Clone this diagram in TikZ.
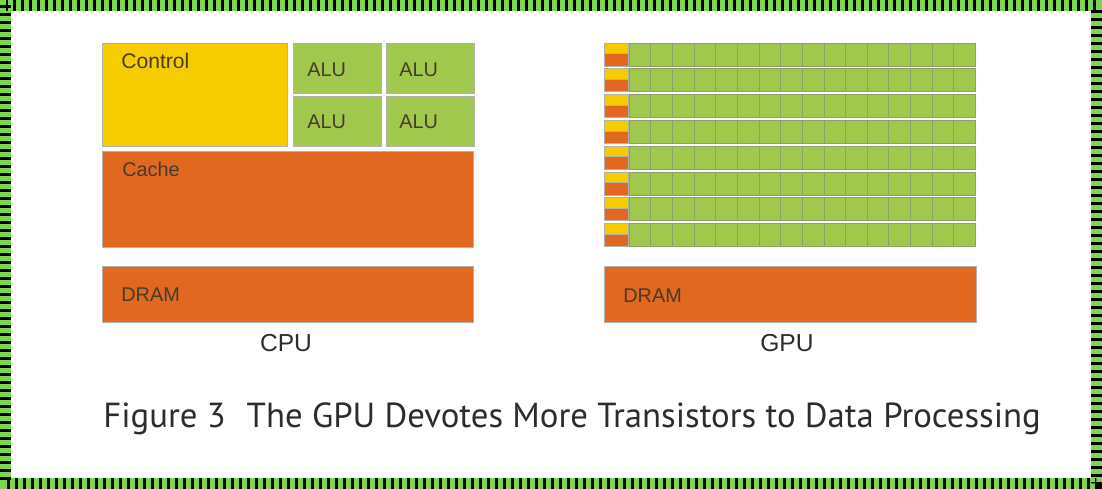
\documentclass[tikz,border=0pt]{standalone}
\usepackage{fontspec}
\setmainfont{Liberation Sans}
\newfontfamily\capfont{PT Sans}
\usetikzlibrary{positioning}
\definecolor{ctrlyellow}{RGB}{245,204,0}
\definecolor{alugreen}{RGB}{160,200,76}
\definecolor{cacheorange}{RGB}{225,104,32}
\definecolor{edgegray}{RGB}{178,178,170}
\definecolor{labeltext}{RGB}{72,60,40}
\definecolor{captext}{RGB}{44,44,44}
\definecolor{framegreen}{RGB}{120,216,80}
\tikzset{
  bloco/.style={draw=edgegray, line width=0.4pt, inner sep=0pt, outer sep=0pt},
  ctrl/.style={bloco, fill=ctrlyellow, minimum width=3.70cm, minimum height=2.06cm},
  alu/.style={bloco, fill=alugreen, minimum width=1.76cm, minimum height=1.0cm},
  cachebox/.style={bloco, fill=cacheorange, minimum width=7.42cm, minimum height=1.92cm},
  dram/.style={bloco, fill=cacheorange, minimum width=7.42cm, minimum height=1.12cm},
  cell/.style={bloco, fill=alugreen, draw=gray!55!alugreen, minimum width=0.433cm, minimum height=0.46cm, anchor=north west},
  half/.style={bloco, minimum width=0.48cm, minimum height=0.23cm, anchor=north west},
  lbl/.style={font=\fontsize{11.3}{13}\selectfont, text=labeltext, inner sep=0pt, anchor=base west},
  titulo/.style={font=\fontsize{14}{16}\selectfont, text=captext, inner sep=0pt, anchor=base}
}

\begin{document}
\begin{tikzpicture}[x=0.02cm, y=-0.02cm]

\useasboundingbox (0,0) rectangle (1102,489);

% Moldura
\draw[framegreen, line width=0.22cm] (5.5,5.5) rectangle (1096.5,483.5);
\draw[black, line width=0.22cm, dash pattern=on 0.06cm off 0.1cm] (5.5,5.5) rectangle (1096.5,483.5);

% CPU
\node[ctrl] (control) at (194.5,94.5) {};
\node[alu] (alu1) at (337,68) {};
\node[alu] (alu2) at (430,68) {};
\node[alu] (alu3) at (337,121) {};
\node[alu] (alu4) at (430,121) {};
\node[cachebox] (cache) at (287.5,199) {};
\node[dram] (cpudram) at (287.5,294) {};

\node[lbl, font=\fontsize{12}{14}\selectfont] (controltext) at (121,69) {Control};
\node[lbl] (alutext1) at (307,77) {ALU};
\node[lbl] (alutext2) at (399,77) {ALU};
\node[lbl] (alutext3) at (307,129) {ALU};
\node[lbl] (alutext4) at (399,129) {ALU};
\node[lbl] (cachetext) at (122,177) {Cache};
\node[lbl] (cpudramtext) at (121,302) {DRAM};
\node[titulo] (cpu) at (286,352) {CPU};

% GPU
\foreach \r in {0,...,7} {
  \pgfmathsetmacro\ytop{43+25.8*\r}
  \node[half, fill=ctrlyellow, minimum height=0.21cm] (gctrl-\r) at (604,\ytop) {};
  \node[half, fill=cacheorange, minimum height=0.25cm] (gcache-\r) at (604,\ytop+10.5) {};
  \foreach \c in {0,...,15}
    \node[cell] (cell-\r-\c) at ({629+21.65*\c},\ytop) {};
}
\node[dram, minimum width=7.44cm] (gpudram) at (790,294) {};
\node[lbl] (gpudramtext) at (623,303) {DRAM};
\node[titulo] (gpu) at (787,352) {GPU};

% Legenda
\node[inner sep=0pt, anchor=base west, text=captext, font=\capfont\fontsize{19.8}{23}\selectfont] (caption) at (103,427)
  {Figure 3\hspace{0.6em}The GPU Devotes More Transistors to Data Processing};

\end{tikzpicture}
\end{document}
